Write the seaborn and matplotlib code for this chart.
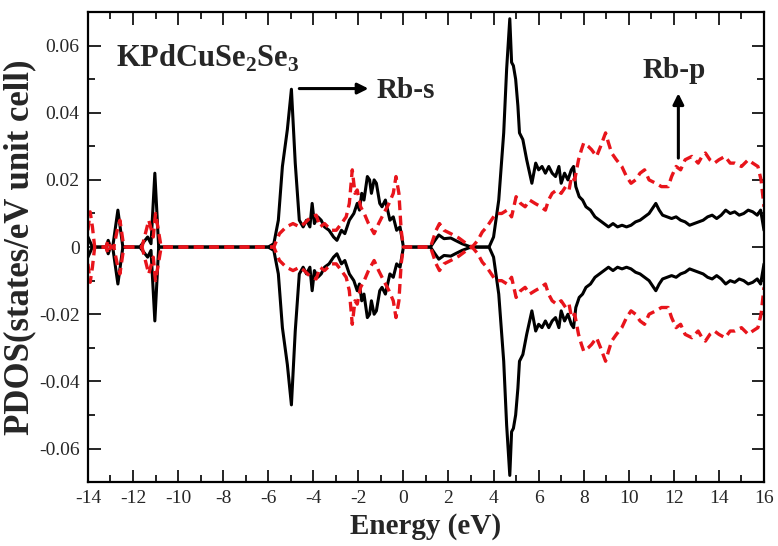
import matplotlib
matplotlib.use("Agg")
import matplotlib.pyplot as plt
import seaborn as sns
import pandas as pd
from matplotlib.ticker import MultipleLocator, FuncFormatter

# Rb-s projected DOS (spin up; spin down is drawn as its mirror image)
energy_s = [-14.0, -13.8, -13.2, -13.1, -13.0, -12.9, -12.67, -12.45, -11.7, -11.35,
            -11.2, -11.03, -10.86, -6.0, -5.75, -5.55, -5.37, -5.15, -4.97, -4.8,
            -4.62, -4.45, -4.3, -4.15, -4.05, -3.95, -3.8, -3.65, -3.5, -3.3,
            -3.1, -2.95, -2.75, -2.6, -2.4, -2.2, -2.05, -1.95, -1.85, -1.75,
            -1.6, -1.5, -1.42, -1.3, -1.2, -1.05, -0.95, -0.8, -0.6, -0.45,
            -0.3, -0.15, 0.0, 1.2, 1.4, 1.57, 1.8, 2.1, 2.3, 2.6,
            3.0, 3.8, 4.0, 4.23, 4.45, 4.58, 4.72, 4.8, 4.88, 4.98,
            5.08, 5.15, 5.3, 5.47, 5.6, 5.7, 5.87, 6.0, 6.15, 6.3,
            6.45, 6.6, 6.75, 6.9, 7.0, 7.15, 7.3, 7.45, 7.55, 7.65,
            7.8, 7.95, 8.1, 8.3, 8.5, 8.7, 8.9, 9.1, 9.3, 9.5,
            9.7, 9.9, 10.1, 10.3, 10.5, 10.7, 10.9, 11.1, 11.2, 11.35,
            11.5, 11.7, 11.9, 12.1, 12.3, 12.5, 12.7, 12.9, 13.1, 13.3,
            13.5, 13.7, 13.9, 14.1, 14.3, 14.5, 14.7, 14.9, 15.1, 15.3,
            15.5, 15.7, 15.85, 16.0]
pdos_s = [0.003, 0.0, 0.0, 0.002, 0.0, 0.0, 0.011, 0.0, 0.0, 0.003,
          0.001, 0.022, 0.0, 0.0, 0.001, 0.008, 0.024, 0.035, 0.047, 0.025,
          0.008, 0.006, 0.008, 0.006, 0.013, 0.007, 0.009, 0.008, 0.006, 0.005,
          0.003, 0.002, 0.005, 0.004, 0.008, 0.010, 0.013, 0.011, 0.016, 0.014,
          0.021, 0.020, 0.016, 0.020, 0.019, 0.013, 0.012, 0.014, 0.008, 0.009,
          0.005, 0.006, 0.0, 0.0, 0.002, 0.0036, 0.0025, 0.0027, 0.002, 0.001,
          0.0, 0.0, 0.003, 0.014, 0.034, 0.053, 0.068, 0.055, 0.054, 0.050,
          0.042, 0.034, 0.032, 0.026, 0.022, 0.019, 0.025, 0.023, 0.024, 0.022,
          0.024, 0.022, 0.021, 0.024, 0.019, 0.022, 0.020, 0.023, 0.024, 0.018,
          0.015, 0.014, 0.012, 0.011, 0.009, 0.008, 0.007, 0.006, 0.007, 0.006,
          0.0065, 0.006, 0.0065, 0.0075, 0.008, 0.009, 0.010, 0.012, 0.013, 0.011,
          0.0095, 0.009, 0.0085, 0.009, 0.008, 0.0075, 0.0065, 0.007, 0.0075, 0.008,
          0.009, 0.0095, 0.0085, 0.0095, 0.011, 0.010, 0.0105, 0.0095, 0.010, 0.011,
          0.0105, 0.0095, 0.011, 0.005]

# Rb-p projected DOS (spin up)
energy_p = [-14.0, -13.9, -13.8, -13.7, -13.2, -13.1, -13.0, -12.85, -12.7, -12.58,
            -12.45, -12.35, -11.6, -11.45, -11.3, -11.1, -11.0, -10.85, -10.75, -6.0,
            -5.75, -5.5, -5.2, -4.9, -4.6, -4.4, -4.1, -3.87, -3.7, -3.5,
            -3.2, -2.98, -2.75, -2.54, -2.4, -2.27, -2.15, -2.05, -1.9, -1.74,
            -1.55, -1.3, -1.1, -0.95, -0.64, -0.45, -0.33, -0.2, -0.1, 0.0,
            1.2, 1.45, 1.6, 1.8, 2.1, 2.46, 2.8, 3.05, 3.3, 3.5,
            3.7, 4.1, 4.36, 4.6, 4.8, 5.0, 5.2, 5.4, 5.6, 5.84,
            6.1, 6.3, 6.44, 6.6, 6.8, 7.0, 7.2, 7.35, 7.46, 7.6,
            7.77, 7.9, 8.0, 8.2, 8.35, 8.57, 8.75, 8.97, 9.1, 9.24,
            9.45, 9.69, 9.9, 10.1, 10.3, 10.5, 10.7, 10.9, 11.2, 11.45,
            11.75, 11.9, 12.1, 12.3, 12.5, 12.8, 13.08, 13.25, 13.4, 13.6,
            13.8, 14.0, 14.27, 14.5, 14.7, 15.0, 15.3, 15.5, 15.73, 15.87,
            16.0]
pdos_p = [0.005, 0.0105, 0.006, 0.0, 0.0, 0.002, 0.0, 0.0, 0.005, 0.008,
          0.002, 0.0, 0.0, 0.004, 0.008, 0.003, 0.010, 0.004, 0.0, 0.0,
          0.0, 0.004, 0.006, 0.007, 0.006, 0.007, 0.009, 0.0095, 0.006, 0.007,
          0.005, 0.005, 0.007, 0.009, 0.013, 0.023, 0.016, 0.017, 0.012, 0.010,
          0.007, 0.004, 0.007, 0.009, 0.013, 0.016, 0.021, 0.016, 0.005, 0.0,
          0.0, 0.005, 0.007, 0.005, 0.004, 0.0027, 0.001, 0.0, 0.002, 0.0045,
          0.006, 0.010, 0.010, 0.011, 0.009, 0.015, 0.013, 0.012, 0.014, 0.013,
          0.012, 0.011, 0.014, 0.016, 0.017, 0.016, 0.018, 0.017, 0.021, 0.020,
          0.026, 0.029, 0.031, 0.030, 0.029, 0.027, 0.030, 0.034, 0.031, 0.028,
          0.026, 0.024, 0.021, 0.019, 0.020, 0.022, 0.023, 0.020, 0.019, 0.018,
          0.018, 0.021, 0.024, 0.023, 0.026, 0.027, 0.025, 0.027, 0.028, 0.026,
          0.025, 0.026, 0.027, 0.025, 0.025, 0.024, 0.026, 0.025, 0.024, 0.020,
          0.012]

xticks = list(range(-14, 17, 2))
yticks = [-0.06, -0.04, -0.02, 0.0, 0.02, 0.04, 0.06]

df_s = pd.DataFrame({"E": energy_s, "up": pdos_s})
df_s["down"] = -df_s["up"]
df_p = pd.DataFrame({"E": energy_p, "up": pdos_p})
df_p["down"] = -df_p["up"]

sns.set_style("ticks")
plt.rcParams["font.family"] = ["Liberation Serif", "DejaVu Serif"]
plt.rcParams["mathtext.fontset"] = "custom"
plt.rcParams["mathtext.rm"] = "Liberation Serif"
plt.rcParams["mathtext.bf"] = "Liberation Serif:bold"
plt.rcParams["lines.scale_dashes"] = False

fig = plt.figure(figsize=(7.78, 5.46), dpi=100)
ax = fig.add_axes([0.113, 0.117, 0.869, 0.861])

common = dict(ax=ax, estimator=None, sort=False, legend=False)
sns.lineplot(data=df_s, x="E", y="up", color="black", linewidth=2.2, **common)
sns.lineplot(data=df_s, x="E", y="down", color="black", linewidth=2.2, **common)
red_dash = (0, (7, 4))
sns.lineplot(data=df_p, x="E", y="up", color="#e8141b", linewidth=2.4,
             linestyle=red_dash, **common)
sns.lineplot(data=df_p, x="E", y="down", color="#e8141b", linewidth=2.4,
             linestyle=red_dash, **common)

ax.set_xlim(-14, 16)
ax.set_ylim(-0.07, 0.07)
ax.set_xticks(xticks)
ax.set_yticks(yticks)
ax.xaxis.set_minor_locator(MultipleLocator(1))
ax.yaxis.set_minor_locator(MultipleLocator(0.01))
ax.xaxis.set_major_formatter(FuncFormatter(lambda v, _: f"{v:.0f}"))
ax.yaxis.set_major_formatter(
    FuncFormatter(lambda v, _: "0" if abs(v) < 1e-9 else f"{v:.2f}"))
ax.tick_params(which="both", direction="in", top=True, right=True,
               width=1.2, labelsize=14, color="black")
ax.tick_params(which="major", length=9, pad=6)
ax.tick_params(which="minor", length=5)
for sp in ax.spines.values():
    sp.set_linewidth(1.6)
    sp.set_color("black")

ax.set_xlabel("Energy (eV)", fontsize=21, fontweight="bold", labelpad=4)
ax.set_ylabel("PDOS(states/eV unit cell)", fontsize=25, fontweight="bold",
              labelpad=2)

ax.text(-12.75, 0.0563, r"KPdCuSe$_\mathbf{2}$Se$_\mathbf{3}$", fontsize=22,
        fontweight="bold", ha="left", va="center")
ax.text(-1.2, 0.0465, "Rb-s", fontsize=21, fontweight="bold",
        ha="left", va="center")
ax.text(10.6, 0.0525, "Rb-p", fontsize=21, fontweight="bold",
        ha="left", va="center")

arrow = dict(arrowstyle="-|>", color="black", lw=2.2, mutation_scale=16,
             shrinkA=0, shrinkB=0)
ax.annotate("", xy=(-1.55, 0.0472), xytext=(-4.62, 0.0472), arrowprops=arrow)
ax.annotate("", xy=(12.2, 0.0458), xytext=(12.2, 0.0265), arrowprops=arrow)

fig.savefig("out.png", dpi=100)
